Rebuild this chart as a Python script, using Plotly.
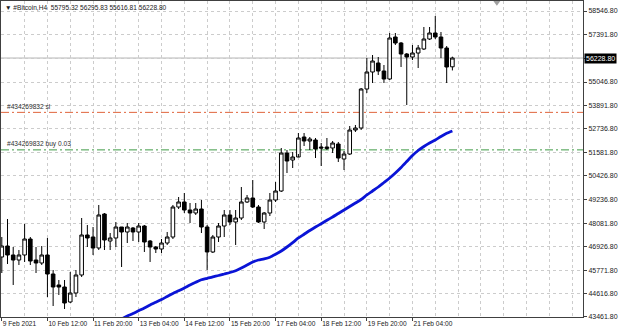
import plotly.graph_objects as go

# ---------------- data ----------------
symbol = "#Bitcoin,H4"
bar_index = list(range(80))

opens = [46419, 46961, 46518, 46271, 46518, 47306, 46271, 46123, 46518, 45581,
         45039, 44940, 44201, 44644, 45532, 47504, 47405, 46863, 48539, 47208,
         47356, 47898, 47652, 47849, 47652, 47947, 47208, 46912, 46813, 47109,
         47405, 48884, 49131, 48736, 48588, 48785, 47898, 46666, 47405, 47947,
         48490, 48145, 48342, 49131, 49328, 48884, 48145, 48588, 49229, 49673,
         51546, 51201, 51349, 52335, 52138, 52187, 51842, 51768, 51793, 51990,
         51250, 51497, 52680, 52779, 54701, 55540, 55983, 55589, 55194, 57265,
         56969, 56427, 56279, 56476, 56673, 57166, 57462, 57265, 56723, 55795.32]
highs = [47405, 48292, 46912, 46764, 48046, 47405, 46912, 46961, 47356, 45778,
         45285, 45285, 45680, 45778, 48342, 47997, 47898, 48983, 48588, 47602,
         48145, 47898, 48095, 47898, 48095, 47997, 47257, 46961, 47306, 47652,
         48983, 49377, 49574, 49081, 49081, 49229, 47997, 47504, 48095, 48736,
         48736, 48736, 49870, 49476, 50215, 48983, 48638, 49574, 50117, 51793,
         51694, 51596, 52532, 52532, 52335, 52286, 52039, 52286, 52138, 52089,
         51645, 52877, 52927, 54751, 56230, 56378, 56279, 55885, 57462, 57462,
         57019, 56476, 56871, 56871, 57758, 57758, 58300, 57512, 56821, 56295.83]
lows = [45630, 46074, 45039, 46025, 46173, 46025, 45630, 46025, 44447, 44003,
        44546, 43855, 44151, 44447, 45433, 46912, 46518, 46764, 46764, 46764,
        46912, 45926, 47109, 47208, 47159, 46666, 46173, 46616, 46616, 47011,
        47306, 48785, 48588, 48095, 48490, 47602, 45778, 46616, 47159, 47405,
        47997, 47011, 48243, 49081, 48835, 48095, 47799, 48440, 49131, 49624,
        50560, 50807, 51497, 51891, 51694, 51300, 50905, 51694, 51546, 51103,
        50708, 51448, 52582, 52680, 54504, 54997, 55392, 54997, 55145, 56871,
        55786, 53913, 56131, 55737, 56624, 57117, 57166, 56230, 54997, 55616.81]
closes = [46961, 46518, 46271, 46518, 47306, 46222, 46123, 46518, 45581, 44940,
          44940, 44151, 44644, 45532, 47504, 47356, 46863, 48490, 47257, 47356,
          47898, 47652, 47898, 47652, 47947, 47159, 46912, 46813, 47109, 47405,
          48884, 49131, 48736, 48588, 48785, 47898, 46666, 47405, 47947, 48490,
          48145, 48342, 49131, 49328, 48884, 48145, 48588, 49229, 49673, 51546,
          51152, 51349, 52286, 52138, 52236, 51743, 51793, 51842, 52039, 51300,
          51497, 52680, 52779, 54701, 55540, 56082, 55589, 55194, 57216, 56969,
          56427, 56279, 56476, 56723, 57166, 57462, 57265, 56723, 55786, 56228.80]

ma_index = list(range(20, 80))
ma_values = [43215, 43362, 43510, 43633, 43771, 43905, 44053, 44186, 44324, 44472,
             44620, 44753, 44891, 45039, 45172, 45295, 45369, 45443, 45507, 45581,
             45655, 45744, 45877, 46025, 46173, 46271, 46330, 46409, 46552, 46715,
             46912, 47129, 47356, 47539, 47726, 47898, 48061, 48228, 48391, 48564,
             48736, 48909, 49081, 49254, 49476, 49673, 49870, 50092, 50314, 50560,
             50832, 51127, 51423, 51669, 51867, 52039, 52187, 52360, 52518, 52631]

time_label_pos = [0, 8, 16, 24, 32, 40, 48, 56, 64, 72]
time_labels = ["9 Feb 2021", "10 Feb 12:00", "11 Feb 20:00", "13 Feb 04:00", "14 Feb 12:00",
               "15 Feb 20:00", "17 Feb 04:00", "18 Feb 12:00", "19 Feb 20:00", "21 Feb 04:00"]
minor_grid_pos = [4, 12, 20, 28, 36, 44, 52, 60, 68, 76, 80, 84, 88, 92, 96, 100]

price_ticks = [43461.80, 44616.80, 45771.80, 46926.80, 48081.80, 49236.80, 50426.80,
               51581.80, 52736.80, 53891.80, 55046.80, 56211.80, 57391.80, 58546.80]
price_labels = ["43461.80", "44616.80", "45771.80", "46926.80", "48081.80", "49236.80", "50426.80",
                "51581.80", "52736.80", "53891.80", "55046.80", "", "57391.80", "58546.80"]

order_id = "#434269832"
sl_level = 53550
buy_level = 51700
buy_lots = "0.03"

FONT = "Liberation Sans, Arial, sans-serif"
FS = 6.6

# ---------------- figure ----------------
fig = go.Figure()

fig.add_trace(go.Candlestick(
    x=bar_index, open=opens, high=highs, low=lows, close=closes,
    increasing=dict(fillcolor="white", line=dict(color="black", width=1)),
    decreasing=dict(fillcolor="black", line=dict(color="black", width=1)),
    whiskerwidth=0, hoverinfo="skip", showlegend=False,
))

fig.add_trace(go.Scatter(
    x=ma_index, y=ma_values, mode="lines",
    line=dict(color="#0A14D6", width=2.8, shape="spline", smoothing=0.6),
    hoverinfo="skip", showlegend=False, cliponaxis=True,
))

dash_dot = "8px,3px,2px,3px"
fig.update_layout(
    width=620, height=331,
    margin=dict(l=1, r=37, t=1, b=14, pad=0),
    paper_bgcolor="white", plot_bgcolor="white",
    showlegend=False,
    boxgap=0.3, boxgroupgap=0.1,
    font=dict(family=FONT, size=FS, color="#1a1a1a"),
    xaxis=dict(
        range=[-0.14, 101.9], fixedrange=True,
        tickmode="array", tickvals=time_label_pos, ticktext=time_labels,
        tickangle=0,
        ticks="outside", ticklen=3, tickwidth=1, tickcolor="#404040",
        ticklabelposition="outside right",
        tickfont=dict(family=FONT, size=FS, color="#1a1a1a"),
        showgrid=True, gridcolor="#cccccc", griddash="dot", gridwidth=1,
        minor=dict(tickmode="array", tickvals=minor_grid_pos, showgrid=True,
                   gridcolor="#cccccc", griddash="dot", gridwidth=1, ticks=""),
        showline=True, linecolor="#404040", linewidth=1, mirror=True,
        zeroline=False, rangeslider=dict(visible=False),
    ),
    yaxis=dict(
        range=[43461.0, 59040.0], fixedrange=True, side="right",
        tickmode="array", tickvals=price_ticks, ticktext=price_labels,
        ticks="outside", ticklen=3, tickwidth=1, tickcolor="#404040",
        tickfont=dict(family=FONT, size=7, color="#1a1a1a"),
        showgrid=True, gridcolor="#cccccc", griddash="dot", gridwidth=1,
        showline=True, linecolor="#404040", linewidth=1, mirror=True,
        zeroline=False,
    ),
    shapes=[
        dict(type="line", xref="paper", x0=0, x1=1, yref="y", y0=closes[-1], y1=closes[-1],
             line=dict(color="#b4b4b4", width=1), layer="between"),
        dict(type="line", xref="paper", x0=0, x1=1, yref="y", y0=sl_level, y1=sl_level,
             line=dict(color="#E0643C", width=1, dash=dash_dot), layer="between"),
        dict(type="line", xref="paper", x0=0, x1=1, yref="y", y0=buy_level, y1=buy_level,
             line=dict(color="#3F9A46", width=1, dash=dash_dot), layer="between"),
        dict(type="path", xref="paper", yref="paper",
             path="M 0.846 1.0 L 0.858 1.0 L 0.852 0.985 Z",
             fillcolor="#a0a0a0", line=dict(width=0), layer="above"),
    ],
)

header = "\u25BC\u00a0{}\u00a0\u00a0{:.2f} {:.2f} {:.2f} {:.2f}".format(
    symbol, opens[-1], highs[-1], lows[-1], closes[-1])
fig.add_annotation(text=header, xref="paper", yref="paper", x=0, y=1,
                   xanchor="left", yanchor="top", xshift=2, yshift=-1, showarrow=False,
                   font=dict(family=FONT, size=FS, color="#1a1a1a"))
fig.add_annotation(text=f"{order_id} sl", xref="paper", yref="y", x=0, y=sl_level,
                   xanchor="left", yanchor="bottom", xshift=4, yshift=0, showarrow=False,
                   font=dict(family=FONT, size=FS, color="#303030"))
fig.add_annotation(text=f"{order_id} buy {buy_lots}", xref="paper", yref="y", x=0, y=buy_level,
                   xanchor="left", yanchor="bottom", xshift=4, yshift=0, showarrow=False,
                   font=dict(family=FONT, size=FS, color="#303030"))
fig.add_annotation(text="{:.2f}".format(closes[-1]), xref="paper", yref="y", x=1, y=closes[-1],
                   xanchor="left", yanchor="middle", xshift=1, showarrow=False,
                   bgcolor="black", borderpad=1,
                   font=dict(family=FONT, size=7, color="white"))

fig.write_html("out.html")
